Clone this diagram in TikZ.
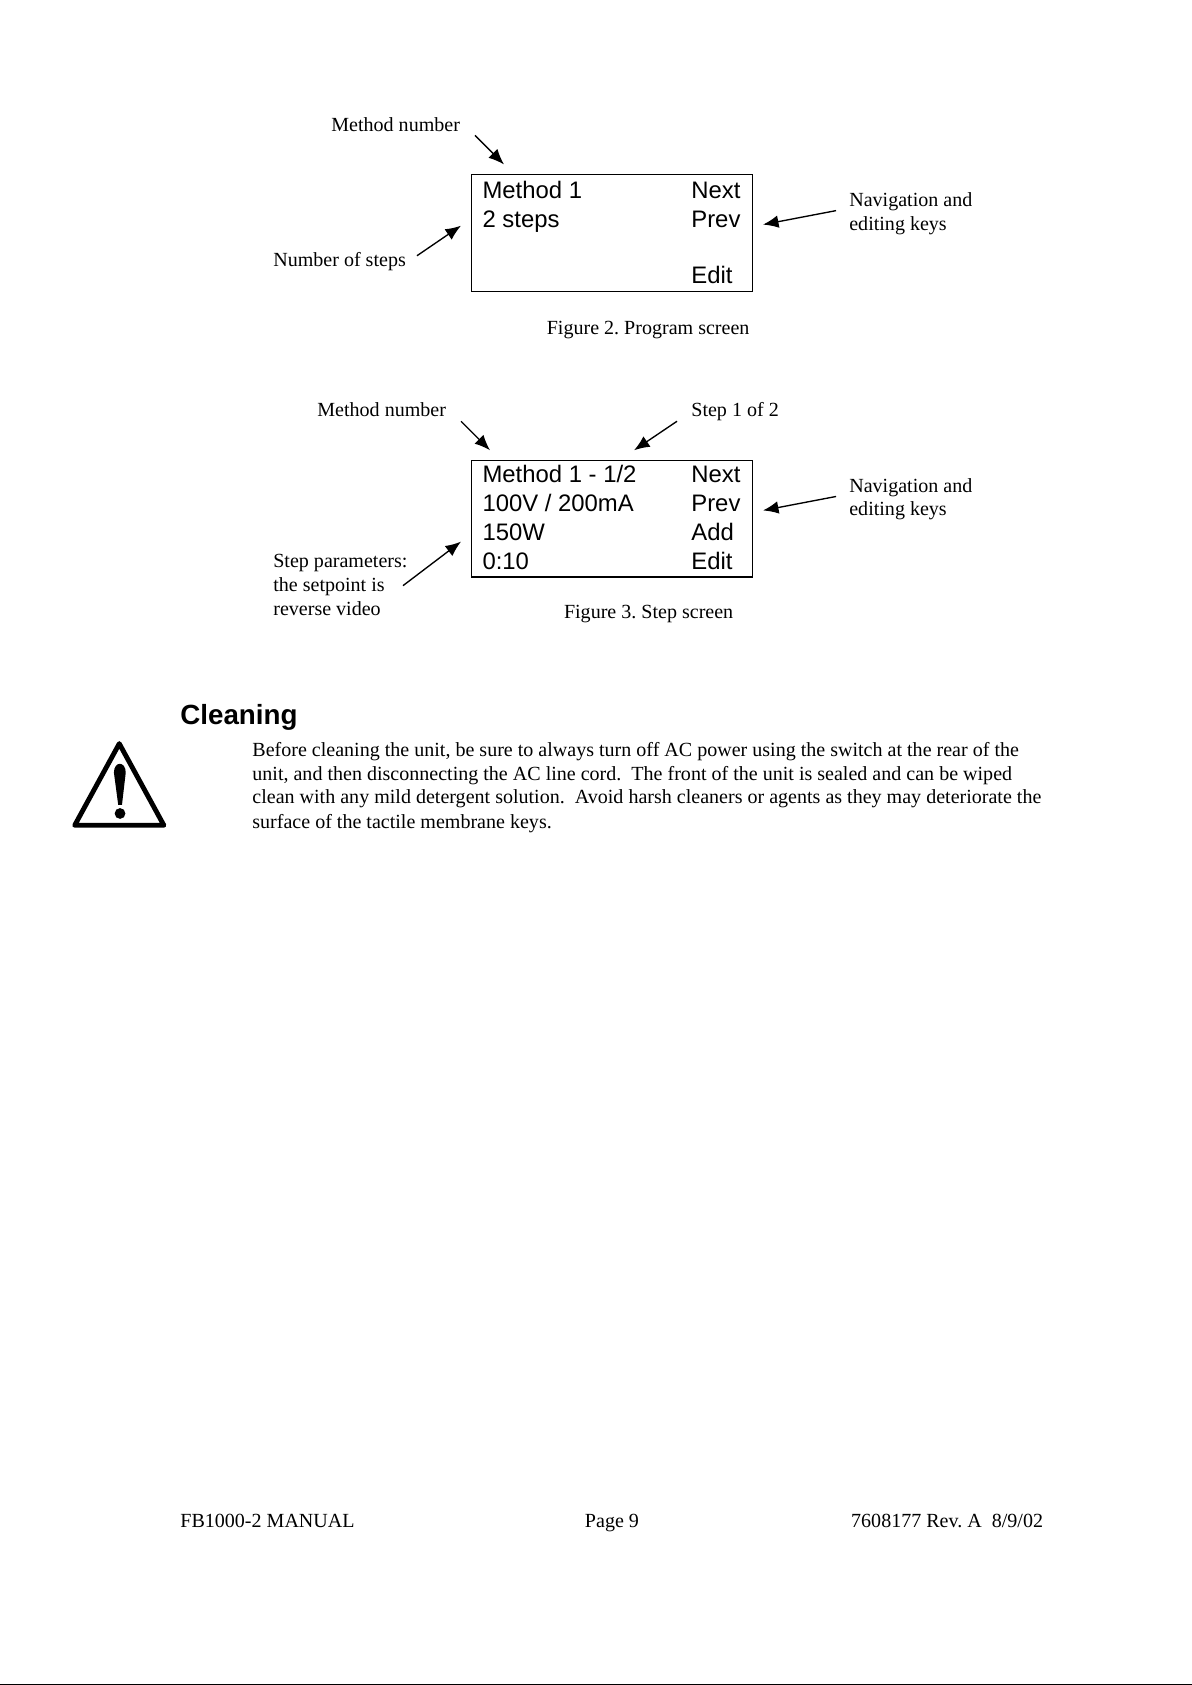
\documentclass[tikz,border=0pt]{standalone}
\usepackage{fontspec}
\setmainfont{Liberation Serif}
\setsansfont{Liberation Sans}
\frenchspacing
\usetikzlibrary{arrows.meta}
\tikzset{
  label/.style={anchor=base west,inner sep=0pt,font=\fontsize{10.33}{12}\selectfont},
  lcd/.style={anchor=base west,inner sep=0pt,font=\fontsize{12.3}{14}\sffamily},
  screen/.style={draw,line width=0.6pt},
  pointer/.style={-{Latex[length=8pt,width=6.5pt]},line width=0.7pt},
}
\begin{document}
\begin{tikzpicture}[x=0.5539pt,y=-0.5539pt]
  \useasboundingbox (0,0) rectangle (1109,1568);
  % first screen
  \node[screen,minimum width=144.9pt,minimum height=60.1pt,inner sep=0pt] (progbox) at (569.2,216.7) {};
  \node[lcd] (progm) at (448.7,185) {Method 1};
  \node[lcd] (progs) at (448.7,212) {2 steps};
  \node[lcd] (progn) at (643,185) {Next};
  \node[lcd] (progp) at (643,212) {Prev};
  \node[lcd] (proge) at (643,264) {Edit};
  \node[label] (prognum) at (308,122) {Method number};
  \node[label] (progcnt) at (254,248) {Number of steps};
  \node[label] (prognav) at (790,192) {Navigation and};
  \node[label] (progkey) at (790,214.5) {editing keys};
  \node[label] (progcap) at (508.5,311) {Figure 2. Program screen};
  \coordinate (a1) at (442,126);
  \coordinate (a2) at (469,153);
  \coordinate (b1) at (388,238);
  \coordinate (b2) at (429,210);
  \coordinate (c1) at (778,196);
  \coordinate (c2) at (710,209);
  \draw[pointer] (a1)--(a2);
  \draw[pointer] (b1)--(b2);
  \draw[pointer] (c1)--(c2);
  % second screen
  \node[screen,minimum width=144.9pt,minimum height=60.1pt,inner sep=0pt] (stepbox) at (569.2,482.7) {};
  \node[lcd] (stepm) at (448.7,449) {Method 1 - 1/2};
  \node[lcd] (stepv) at (448.7,476) {100V / 200mA};
  \node[lcd] (stepw) at (448.7,503) {150W};
  \node[lcd] (stept) at (448.7,530) {0:10};
  \node[lcd] (stepn) at (643,449) {Next};
  \node[lcd] (stepp) at (643,476) {Prev};
  \node[lcd] (stepa) at (643,503) {Add};
  \node[lcd] (stepe) at (643,530) {Edit};
  \node[label] (stepnum) at (295,388) {Method number};
  \node[label] (stepof) at (643,388) {Step 1 of 2};
  \node[label] (steppar) at (254,528) {Step parameters:};
  \node[label] (stepset) at (254,550) {the setpoint is};
  \node[label] (steprev) at (254,573) {reverse video};
  \node[label] (stepnav) at (790,458) {Navigation and};
  \node[label] (stepkey) at (790,480) {editing keys};
  \node[label] (stepcap) at (524.5,576) {Figure 3. Step screen};
  \coordinate (d1) at (429,392);
  \coordinate (d2) at (456,419);
  \coordinate (e1) at (630,392);
  \coordinate (e2) at (590,419);
  \coordinate (f1) at (375,545);
  \coordinate (f2) at (429,504);
  \coordinate (g1) at (778,462);
  \coordinate (g2) at (710,475);
  \draw[pointer] (d1)--(d2);
  \draw[pointer] (e1)--(e2);
  \draw[pointer] (f1)--(f2);
  \draw[pointer] (g1)--(g2);
  % cleaning
  \node[anchor=base west,inner sep=0pt,font=\fontsize{14.3}{16}\bfseries\sffamily] (cleanhead) at (167.5,674) {Cleaning};
  \node[label] (clean1) at (234.5,704) {Before cleaning the unit, be sure to always turn off AC power using the switch at the rear of the};
  \node[label] (clean2) at (234.5,726) {unit, and then disconnecting the AC line cord.\ \ The front of the unit is sealed and can be wiped};
  \node[label] (clean3) at (234.5,748) {clean with any mild detergent solution.\ \ Avoid harsh cleaners or agents as they may deteriorate the};
  \node[label] (clean4) at (234.5,771) {surface of the tactile membrane keys.};
  \draw[line width=2.5pt,line join=round] (111,692)--(152.5,768)--(69.5,768)--cycle;
  \fill (106,719) .. controls (106,708) and (117,708) .. (117,719) -- (113.5,749) -- (110,749) -- cycle;
  \fill (111.7,757) circle (5);
  % footer
  \node[label] (footl) at (167.5,1421) {FB1000-2 MANUAL};
  \node[label] (footc) at (544,1421) {Page 9};
  \node[label,anchor=base east] (footr) at (971,1421) {7608177 Rev. A\ \ 8/9/02};
  \fill (0,1566.7) rectangle (1109,1568);
\end{tikzpicture}
\end{document}
